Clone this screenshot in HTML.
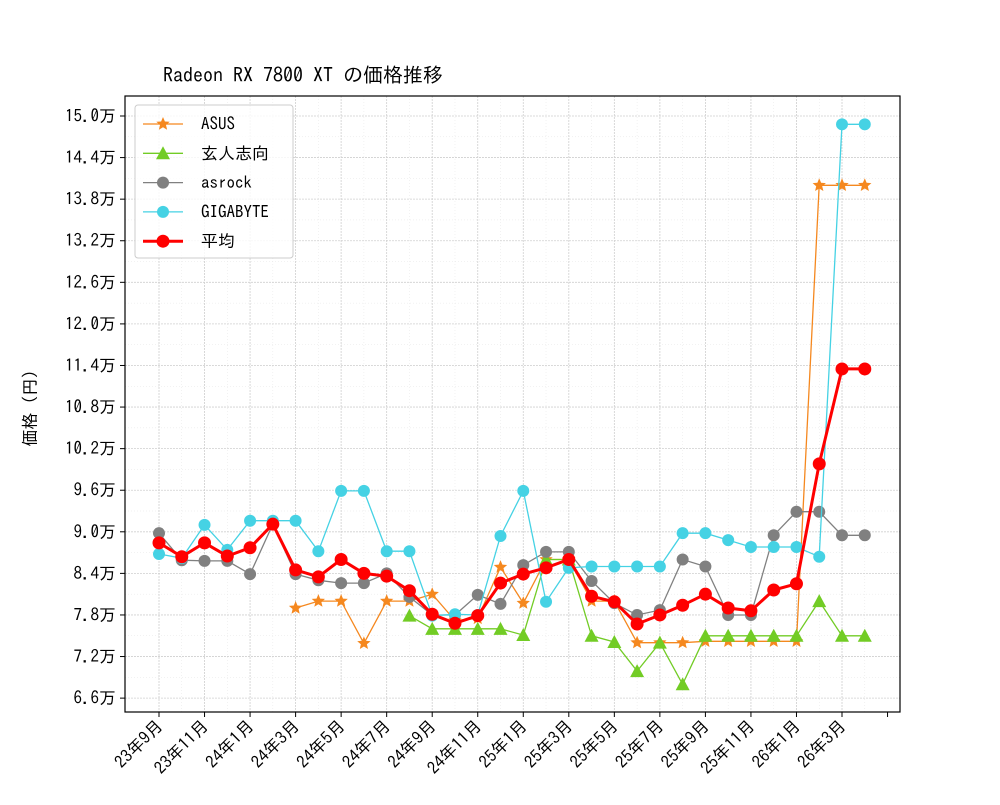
<!DOCTYPE html>
<html><head><meta charset="utf-8"><style>
body{margin:0;background:#fff;}
svg text{font-family:"IPAGothic","Liberation Mono",monospace;}
</style></head><body>
<svg id="chart" width="1000" height="800" xmlns="http://www.w3.org/2000/svg">
<rect width="1000" height="800" fill="#fff"/>
<text x="163" y="82" font-size="20">Radeon RX 7800 XT の価格推移</text>
<text transform="translate(36,404) rotate(-90)" font-size="17" text-anchor="middle">価格（円）</text>
<g id="grid"></g><g id="axes"></g><g id="series"></g><g id="legend"></g>
</svg>
<script>
const months=["23年9月","23年11月","24年1月","24年3月","24年5月","24年7月","24年9月","24年11月","25年1月","25年3月","25年5月","25年7月","25年9月","25年11月","26年1月","26年3月"];
const yTicks=[6.6,7.2,7.8,8.4,9.0,9.6,10.2,10.8,11.4,12.0,12.6,13.2,13.8,14.4,15.0];
const N=null;
const asus=[N,N,N,N,N,N,7.9,8.0,8.0,7.39,8.0,8.0,8.1,7.72,7.75,8.49,7.97,8.6,8.6,8.0,8.0,7.4,7.4,7.4,7.42,7.42,7.42,7.42,7.42,14.0,14.0,14.0];
const kuro=[N,N,N,N,N,N,N,N,N,N,N,7.79,7.6,7.6,7.6,7.6,7.51,8.6,8.6,7.5,7.41,6.99,7.4,6.8,7.5,7.5,7.5,7.5,7.5,8.0,7.5,7.5];
const asrock=[8.98,8.59,8.58,8.58,8.39,9.11,8.39,8.3,8.26,8.26,8.4,8.06,7.8,7.8,8.09,7.96,8.52,8.71,8.71,8.29,7.97,7.8,7.87,8.6,8.5,7.8,7.8,8.95,9.29,9.29,8.95,8.95];
const giga=[8.68,8.62,9.1,8.74,9.16,9.16,9.16,8.72,9.59,9.59,8.72,8.72,7.79,7.81,7.8,8.94,9.59,7.99,8.48,8.5,8.5,8.5,8.5,8.98,8.98,8.88,8.78,8.78,8.78,8.64,14.88,14.88];
const avg=[8.84,8.64,8.84,8.65,8.77,9.11,8.45,8.35,8.6,8.4,8.36,8.15,7.81,7.68,7.79,8.26,8.39,8.48,8.6,8.07,7.99,7.67,7.8,7.94,8.1,7.9,7.86,8.16,8.25,9.98,11.35,11.35];
const NS="http://www.w3.org/2000/svg";
const L=125,R=900,T=96,B=712;
const xs=i=>159+i*22.767, ys=v=>116+(15-v)*69.3;
function mk(tag,attrs,parent){const e=document.createElementNS(NS,tag);for(const k in attrs)e.setAttribute(k,attrs[k]);parent.appendChild(e);return e;}
const grid=document.getElementById('grid'),axes=document.getElementById('axes'),ser=document.getElementById('series'),leg=document.getElementById('legend');
mk('rect',{x:L,y:T,width:R-L,height:B-T,fill:'none',stroke:'#000','stroke-width':1.2},axes);
for(let i=0;i<32;i++){const l=mk('line',{x1:xs(i),x2:xs(i),y1:T,y2:B,stroke:'#e4e4e4','stroke-width':0.5,'stroke-dasharray':'1,2'},grid);}
for(let v=6.6;v<=15.05;v+=0.3){mk('line',{x1:L,x2:R,y1:ys(v),y2:ys(v),stroke:'#e4e4e4','stroke-width':0.5,'stroke-dasharray':'1,2'},grid);}
months.forEach((m,k)=>{const x=xs(k*2);
 const g=mk('line',{x1:x,x2:x,y1:T,y2:B,stroke:'#d0d0d0','stroke-width':0.8,'stroke-dasharray':'2,1'},grid);
 
 mk('line',{x1:x,x2:x,y1:B,y2:B+5,stroke:'#000'},axes);
 const t=mk('text',{x:x+5,y:B+15,'font-size':17,'text-anchor':'end',transform:`rotate(-45 ${x+5} ${B+15})`},axes);t.textContent=m;
 });
mk('line',{x1:xs(32),x2:xs(32),y1:B,y2:B+5,stroke:'#000'},axes);
yTicks.forEach(v=>{const y=ys(v);
 const g=mk('line',{x1:L,x2:R,y1:y,y2:y,stroke:'#d0d0d0','stroke-width':0.8,'stroke-dasharray':'2,1'},grid);
 
 mk('line',{x1:L-5,x2:L,y1:y,y2:y,stroke:'#000'},axes);
 const t=mk('text',{x:L-9,y:y+6,'font-size':17,'text-anchor':'end'},axes);t.textContent=v.toFixed(1)+'万';
 });
function star(cx,cy,r,color,p){let d='';for(let k=0;k<10;k++){const rr=k%2?r*0.45:r;const a=-Math.PI/2+k*Math.PI/5;d+=(k?'L':'M')+(cx+rr*Math.cos(a)).toFixed(1)+','+(cy+rr*Math.sin(a)).toFixed(1);}return mk('path',{d:d+'Z',fill:color},p);}
function marker(type,cx,cy,color,p){
 if(type==='star')return star(cx,cy,7,color,p);
 if(type==='tri')return mk('path',{d:`M${cx},${cy-7}L${cx+7},${cy+6}L${cx-7},${cy+6}Z`,fill:color},p);
 return mk('circle',{cx:cx,cy:cy,r:type==='big'?6.5:6,fill:color},p);}
const defs=[["ASUS",asus,'#f5881f','star',1.3,'asus'],["玄人志向",kuro,'#72cc25','tri',1.3,'kuroutoshikou'],["asrock",asrock,'#808080','circ',1.3,'asrock'],["GIGABYTE",giga,'#45d2e4','circ',1.3,'gigabyte'],["平均",avg,'#f00','big',3,'average']];
defs.forEach(([name,data,col,mt,w,id],si)=>{
 const g=mk('g',{},ser);
 let d='';let pen=false;data.forEach((v,i)=>{if(v==null){pen=false;return;}d+=(pen?'L':'M')+xs(i).toFixed(1)+','+ys(v).toFixed(1);pen=true;});
 const p=mk('path',{d:d,fill:'none',stroke:col,'stroke-width':w},g);
 data.forEach((v,i)=>{if(v==null)return;const m=marker(mt,xs(i),ys(v),col,g);});
 const ly=124+si*29.3;
 const lg=mk('g',{},leg);
 mk('line',{x1:143,x2:183,y1:ly,y2:ly,stroke:col,'stroke-width':w},lg);
 marker(mt,163,ly,col,lg);
 const t=mk('text',{x:201,y:ly+6,'font-size':17},lg);t.textContent=name;
});
const box=mk('rect',{x:135,y:105,width:158,height:153,rx:3,fill:'#fff','fill-opacity':0.8,stroke:'#ccc'},leg);
leg.insertBefore(box,leg.firstChild);

</script>
</body></html>
